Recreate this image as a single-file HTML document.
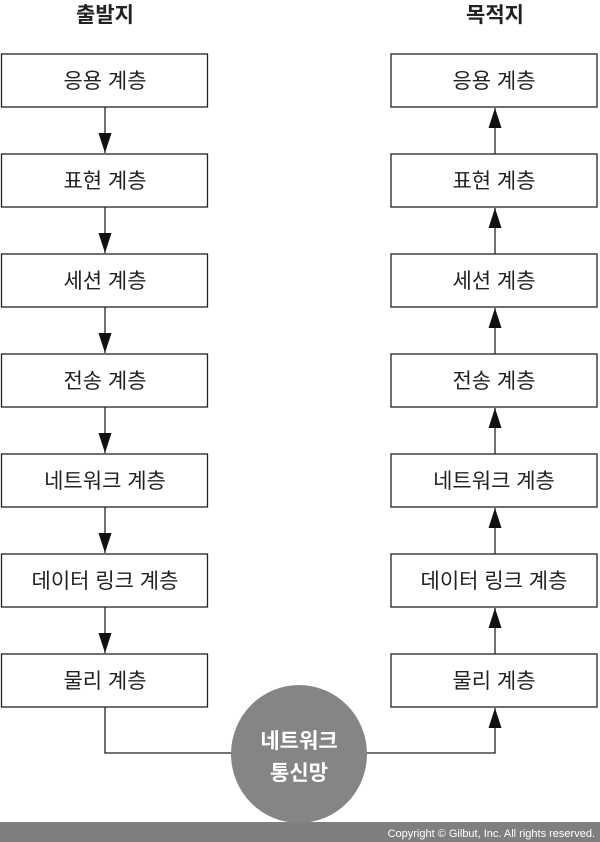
<!DOCTYPE html>
<html><head><meta charset="utf-8"><style>
html,body{margin:0;padding:0;background:#fff;}
svg{display:block;}
text{font-family:"Liberation Sans","Noto Sans CJK KR",sans-serif;}
</style></head><body>
<svg width="600" height="842" viewBox="0 0 600 842" xmlns="http://www.w3.org/2000/svg">
<defs>
<marker id="ah" markerWidth="20" markerHeight="13" refX="20" refY="6.5" orient="auto" markerUnits="userSpaceOnUse" viewBox="0 0 20 13">
<path d="M0,0 L20,6.5 L0,13 Z" fill="#111"/>
</marker>
</defs>
<text x="105" y="22" font-size="21" font-weight="bold" text-anchor="middle" fill="#222">출발지</text>
<text x="495" y="22" font-size="21" font-weight="bold" text-anchor="middle" fill="#222">목적지</text>
<g fill="#fff" stroke="#222" stroke-width="1.3">
<rect x="1.5" y="54" width="206" height="53"/>
<rect x="1.5" y="154" width="206" height="53"/>
<rect x="1.5" y="254" width="206" height="53"/>
<rect x="1.5" y="354" width="206" height="53"/>
<rect x="1.5" y="454" width="206" height="53"/>
<rect x="1.5" y="554" width="206" height="53"/>
<rect x="1.5" y="654" width="206" height="53"/>
<rect x="391" y="54" width="206" height="53"/>
<rect x="391" y="154" width="206" height="53"/>
<rect x="391" y="254" width="206" height="53"/>
<rect x="391" y="354" width="206" height="53"/>
<rect x="391" y="454" width="206" height="53"/>
<rect x="391" y="554" width="206" height="53"/>
<rect x="391" y="654" width="206" height="53"/>
</g>
<g stroke="#222" stroke-width="1.3" fill="none">
<line x1="105" y1="107" x2="105" y2="153" marker-end="url(#ah)"/>
<line x1="105" y1="207" x2="105" y2="253" marker-end="url(#ah)"/>
<line x1="105" y1="307" x2="105" y2="353" marker-end="url(#ah)"/>
<line x1="105" y1="407" x2="105" y2="453" marker-end="url(#ah)"/>
<line x1="105" y1="507" x2="105" y2="553" marker-end="url(#ah)"/>
<line x1="105" y1="607" x2="105" y2="653" marker-end="url(#ah)"/>
<line x1="495" y1="154" x2="495" y2="108" marker-end="url(#ah)"/>
<line x1="495" y1="254" x2="495" y2="208" marker-end="url(#ah)"/>
<line x1="495" y1="354" x2="495" y2="308" marker-end="url(#ah)"/>
<line x1="495" y1="454" x2="495" y2="408" marker-end="url(#ah)"/>
<line x1="495" y1="554" x2="495" y2="508" marker-end="url(#ah)"/>
<line x1="495" y1="654" x2="495" y2="608" marker-end="url(#ah)"/>
<polyline points="105,707 105,753 240,753"/>
<polyline points="360,753 495,753 495,708" marker-end="url(#ah)"/>
</g>
<g font-size="21" text-anchor="middle" fill="#222">
<text x="105" y="88">응용 계층</text>
<text x="105" y="188">표현 계층</text>
<text x="105" y="288">세션 계층</text>
<text x="105" y="388">전송 계층</text>
<text x="105" y="488">네트워크 계층</text>
<text x="105" y="588">데이터 링크 계층</text>
<text x="105" y="688">물리 계층</text>
<text x="494" y="88">응용 계층</text>
<text x="494" y="188">표현 계층</text>
<text x="494" y="288">세션 계층</text>
<text x="494" y="388">전송 계층</text>
<text x="494" y="488">네트워크 계층</text>
<text x="494" y="588">데이터 링크 계층</text>
<text x="494" y="688">물리 계층</text>
</g>
<ellipse cx="299" cy="754" rx="68" ry="69" fill="#858585"/>
<text x="299" y="748" font-size="21" font-weight="bold" text-anchor="middle" fill="#fff">네트워크</text>
<text x="299" y="780" font-size="21" font-weight="bold" text-anchor="middle" fill="#fff">통신망</text>
<rect x="0" y="822" width="600" height="20" fill="#7f7f7f"/>
<text x="595" y="837" font-size="11" text-anchor="end" fill="#fff">Copyright © Gilbut, Inc. All rights reserved.</text>
</svg>
</body></html>
